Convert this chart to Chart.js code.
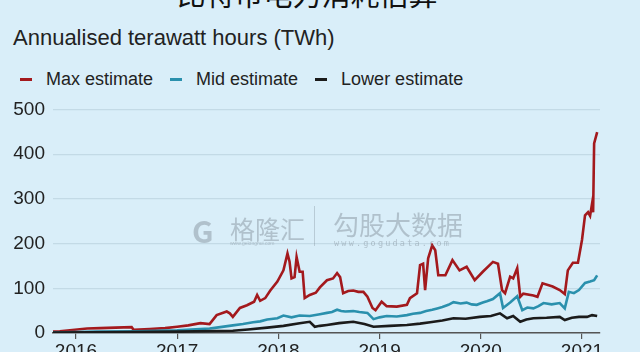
<!DOCTYPE html>
<html>
<head>
<meta charset="utf-8">
<script src="https://cdn.jsdelivr.net/npm/chart.js@4/dist/chart.umd.min.js"></script>
<style>
  html, body { margin: 0; padding: 0; }
  body {
    width: 640px; height: 352px; overflow: hidden; position: relative;
    background: #d9eef9;
    font-family: "Liberation Sans", Arial, sans-serif; color: #222;
  }
  #title {
    position: absolute; top: -28px; left: 0; width: 614px; text-align: center;
    font-family: "Noto Sans CJK SC", sans-serif; font-size: 29px; color: #111;
    white-space: nowrap;
  }
  #subtitle { position: absolute; top: 25px; left: 13px; font-size: 22px; }
  #legend { position: absolute; top: 69px; left: 20px; font-size: 18px; display: flex; }
  .item { display: flex; align-items: center; margin-right: 17px; }
  .swatch { width: 12px; height: 3px; margin-right: 14px; }
  #chart-box { position: absolute; top: 90px; left: 0; width: 640px; height: 280px; }
  .wm { position: absolute; color: rgba(110, 122, 132, 0.38); white-space: nowrap; }
</style>
</head>
<body>
<div id="title">比特币电力消耗估算</div>
<div id="subtitle">Annualised terawatt hours (TWh)</div>
<div id="legend"></div>
<div id="chart-box"><canvas id="chart"></canvas></div>
<div class="wm" style="left:192px; top:208px; font-size:30px; font-weight:bold; font-family:'Noto Sans CJK SC';">G</div>
<div class="wm" style="left:230px; top:210px; font-size:25px; font-family:'Noto Sans CJK SC';">格隆汇</div>
<div class="wm" style="left:230px; top:240px; font-size:5px;">www.gelonghui.com</div>
<div class="wm" style="left:314px; top:206px; width:1px; height:40px; background:rgba(110,122,132,0.3);"></div>
<div class="wm" style="left:333px; top:205px; font-size:26px; font-family:'Noto Sans CJK SC';">勾股大数据</div>
<div class="wm" style="left:334px; top:238px; font-size:8.5px; letter-spacing:2.2px; font-family:'DejaVu Sans Mono';">www.gogudata.com</div>
<script>
// Series data (x = decimal year, y = TWh)
const seriesNames = ['Max estimate', 'Mid estimate', 'Lower estimate'];
const seriesColors = ['#a3191d', '#2a90ad', '#1b1b1b'];

const maxYears = [2015.77, 2015.84, 2015.94, 2016.11, 2016.24, 2016.39, 2016.55, 2016.57, 2016.73, 2016.88,
  2017.00, 2017.11, 2017.23, 2017.32, 2017.39, 2017.49, 2017.52, 2017.55, 2017.62, 2017.69,
  2017.76, 2017.79, 2017.82, 2017.87, 2017.92, 2017.99, 2018.05, 2018.09, 2018.11, 2018.13,
  2018.16, 2018.18, 2018.21, 2018.24, 2018.26, 2018.31, 2018.37, 2018.41, 2018.48, 2018.54,
  2018.58, 2018.61, 2018.64, 2018.69, 2018.74, 2018.79, 2018.84, 2018.88, 2018.93, 2018.96,
  2019.02, 2019.07, 2019.17, 2019.27, 2019.30, 2019.37, 2019.40, 2019.43, 2019.45, 2019.48,
  2019.52, 2019.55, 2019.58, 2019.65, 2019.72, 2019.79, 2019.86, 2019.94, 2020.02, 2020.12,
  2020.17, 2020.21, 2020.24, 2020.29, 2020.32, 2020.36, 2020.39, 2020.42, 2020.52, 2020.56,
  2020.61, 2020.71, 2020.78, 2020.83, 2020.86, 2020.91, 2020.96, 2021.00, 2021.03, 2021.06,
  2021.08, 2021.10, 2021.11, 2021.12, 2021.15];
const maxValues = [3, 4, 6, 10, 11, 12, 13, 7, 9, 11,
  14, 17, 22, 20, 40, 48, 44, 36, 56, 62,
  70, 85, 72, 78, 95, 115, 140, 178, 160, 122,
  125, 170, 137, 137, 78, 85, 90, 102, 118, 122,
  134, 125, 89, 94, 95, 92, 92, 81, 56, 51,
  70, 60, 59, 63, 78, 89, 152, 155, 96, 167,
  196, 185, 129, 129, 163, 140, 148, 118, 137, 159,
  155, 96, 89, 126, 122, 145, 81, 88, 84, 81,
  111, 104, 96, 87, 140, 157, 157, 208, 263, 270,
  262, 290, 270, 424, 449];

const midYears = [2015.77, 2016.2, 2016.6, 2017.0, 2017.32, 2017.39, 2017.55, 2017.65, 2017.75, 2017.82,
  2017.89, 2017.99, 2018.05, 2018.13, 2018.21, 2018.31, 2018.41, 2018.48, 2018.53, 2018.58,
  2018.62, 2018.66, 2018.74, 2018.80, 2018.88, 2018.94, 2019.00, 2019.07, 2019.17, 2019.27,
  2019.33, 2019.40, 2019.46, 2019.52, 2019.57, 2019.62, 2019.68, 2019.73, 2019.80, 2019.86,
  2019.91, 2019.96, 2020.02, 2020.06, 2020.12, 2020.19, 2020.22, 2020.29, 2020.36, 2020.41,
  2020.46, 2020.52, 2020.57, 2020.62, 2020.70, 2020.78, 2020.83, 2020.87, 2020.92, 2020.97,
  2021.03, 2021.08, 2021.12, 2021.15];
const midValues = [1, 3, 4, 6, 10, 12, 17, 20, 24, 26,
  30, 33, 39, 35, 39, 38, 42, 45, 47, 52,
  49, 48, 49, 47, 45, 31, 35, 38, 37, 40,
  43, 45, 49, 52, 55, 58, 63, 69, 66, 68,
  64, 63, 68, 71, 76, 89, 56, 68, 82, 51,
  57, 55, 60, 67, 64, 67, 55, 92, 89, 96,
  112, 115, 118, 129];

const lowYears = [2015.77, 2016.5, 2017.0, 2017.55, 2017.70, 2017.89, 2018.05, 2018.21, 2018.31, 2018.36,
  2018.41, 2018.48, 2018.60, 2018.74, 2018.85, 2018.94, 2019.10, 2019.27, 2019.40, 2019.5,
  2019.62, 2019.73, 2019.85, 2019.99, 2020.10, 2020.19, 2020.26, 2020.32, 2020.39, 2020.45,
  2020.52, 2020.65, 2020.78, 2020.83, 2020.90, 2020.97, 2021.05, 2021.10, 2021.15];
const lowValues = [1, 2, 3, 5, 8, 12, 16, 22, 25, 14,
  16, 18, 22, 25, 20, 14, 16, 18, 21, 24,
  28, 33, 32, 36, 38, 44, 33, 38, 25, 30,
  33, 34, 36, 29, 34, 36, 36, 40, 38];

const yearTicks = [2016, 2017, 2018, 2019, 2020, 2021];
const valueTicks = [0, 100, 200, 300, 400, 500];

function toPoints(xs, ys) {
  return xs.map((x, i) => ({ x: x, y: ys[i] }));
}

// Build the HTML legend
const legend = document.getElementById('legend');
seriesNames.forEach((name, i) => {
  const item = document.createElement('div');
  item.className = 'item';
  item.innerHTML = `<span class="swatch" style="background:${seriesColors[i]}"></span><span>${name}</span>`;
  legend.appendChild(item);
});

const allData = [toPoints(maxYears, maxValues), toPoints(midYears, midValues), toPoints(lowYears, lowValues)];

new Chart(document.getElementById('chart'), {
  type: 'line',
  data: {
    datasets: seriesNames.map((name, i) => ({
      label: name,
      data: allData[i],
      borderColor: seriesColors[i],
      borderWidth: 2.6,
      pointRadius: 0,
      tension: 0,
      order: i === 0 ? 3 : (i === 1 ? 2 : 1)
    }))
  },
  options: {
    responsive: true,
    maintainAspectRatio: false,
    animation: false,
    layout: { padding: { top: 9, right: 40, bottom: 0, left: 0 } },
    plugins: { legend: { display: false }, tooltip: { enabled: false } },
    scales: {
      x: {
        type: 'linear',
        min: 2015.773,
        max: 2021.178,
        afterBuildTicks: (axis) => { axis.ticks = yearTicks.map(v => ({ value: v })); },
        afterFit: (axis) => { axis.height = 37; },
        ticks: {
          callback: (v) => String(v),
          color: '#222',
          font: { family: '"Liberation Sans", Arial, sans-serif', size: 19 },
          padding: 1,
          maxRotation: 0
        },
        grid: { drawOnChartArea: false, drawTicks: true, tickLength: 6, color: '#555', lineWidth: 1.2 },
        border: { display: true, color: '#555', width: 1.5 }
      },
      y: {
        min: 0,
        max: 500,
        afterBuildTicks: (axis) => { axis.ticks = valueTicks.map(v => ({ value: v })); },
        afterFit: (axis) => { axis.width = 53; },
        ticks: {
          color: '#222',
          font: { family: '"Liberation Sans", Arial, sans-serif', size: 19 },
          padding: 8
        },
        grid: { drawTicks: false, color: '#c3dae6', lineWidth: 1.2 },
        border: { display: false }
      }
    }
  }
});
</script>
</body>
</html>
